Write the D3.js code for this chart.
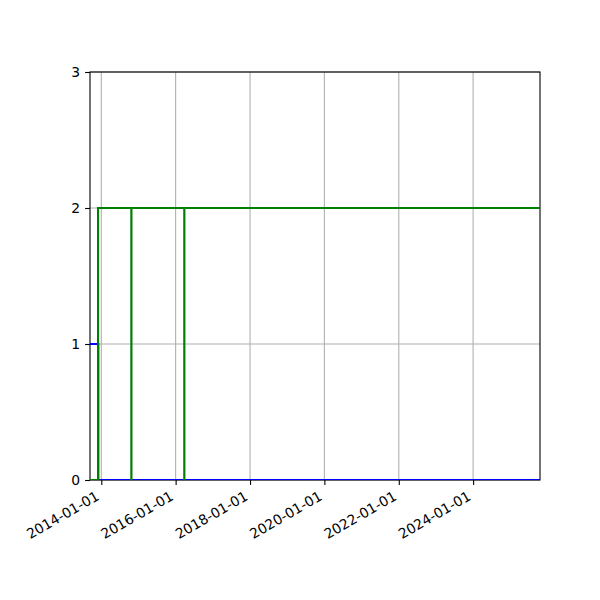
<!DOCTYPE html>
<html>
<head>
<meta charset="utf-8">
<script src="https://d3js.org/d3.v7.min.js"></script>
<style>
  body { margin: 0; background: #fff; }
  text { font-family: "DejaVu Sans", sans-serif; }
</style>
</head>
<body>
<div id="stage"></div>
<script>
// step series, values hold from each date until the next one
const xRange = ['2013-09-12', '2025-10-19'];
const blueDates = ['2013-09-12', '2013-12-02', '2025-10-19'];
const blueValues = [1, 0, 0];
const greenDates = ['2013-09-12', '2013-11-30', '2014-10-23', '2014-10-24', '2016-03-26', '2016-03-27', '2025-10-19'];
const greenValues = [0, 2, 0, 2, 0, 2, 2];
const yTicks = [0, 1, 2, 3];

const W = 600, H = 600;
const margin = { top: 72, right: 60, bottom: 120, left: 90 };
const parse = d3.utcParse('%Y-%m-%d');

const svg = d3.select('#stage').append('svg')
  .attr('width', W)
  .attr('height', H);

const x = d3.scaleUtc()
  .domain(xRange.map(parse))
  .range([margin.left, W - margin.right]);
const y = d3.scaleLinear()
  .domain([0, 3])
  .range([H - margin.bottom, margin.top]);

const xTicks = d3.utcYear.every(2).range(x.domain()[0], x.domain()[1]);
const fmt = d3.utcFormat('%Y-%m-%d');

// grid
const grid = svg.append('g').attr('stroke', '#b0b0b0').attr('stroke-width', 1.1);
grid.selectAll('.gx').data(xTicks).enter().append('line')
  .attr('x1', d => x(d)).attr('x2', d => x(d))
  .attr('y1', y(0)).attr('y2', y(3));
grid.selectAll('.gy').data(yTicks).enter().append('line')
  .attr('y1', d => y(d)).attr('y2', d => y(d))
  .attr('x1', x.range()[0]).attr('x2', x.range()[1]);

// spines
svg.append('rect')
  .attr('x', margin.left).attr('y', margin.top)
  .attr('width', W - margin.left - margin.right)
  .attr('height', H - margin.top - margin.bottom)
  .attr('fill', 'none')
  .attr('stroke', '#000')
  .attr('stroke-width', 1.1);

// clip lines to the axes box like matplotlib
svg.append('clipPath').attr('id', 'clip')
  .append('rect')
  .attr('x', margin.left).attr('y', margin.top)
  .attr('width', W - margin.left - margin.right)
  .attr('height', H - margin.top - margin.bottom);

const line = d3.line()
  .x(d => x(d[0]))
  .y(d => y(d[1]))
  .curve(d3.curveStepAfter);

// blue first, green goes on top of it
const series = [
  { color: '#0000ff', pts: d3.zip(blueDates.map(parse), blueValues) },
  { color: '#008000', pts: d3.zip(greenDates.map(parse), greenValues) },
];
svg.append('g').attr('clip-path', 'url(#clip)')
  .selectAll('path').data(series).enter().append('path')
  .attr('d', d => line(d.pts))
  .attr('fill', 'none')
  .attr('stroke', d => d.color)
  .attr('stroke-width', 2.1)
  .attr('stroke-linejoin', 'miter')
  .attr('stroke-linecap', 'butt');

// axes
const xAxis = svg.append('g')
  .attr('transform', `translate(0,${y(0)})`)
  .call(d3.axisBottom(x).tickValues(xTicks).tickFormat(fmt).tickSizeOuter(0).tickSize(4.9).tickPadding(4.9));
const yAxis = svg.append('g')
  .attr('transform', `translate(${margin.left},0)`)
  .call(d3.axisLeft(y).tickValues(yTicks).tickFormat(d3.format('d')).tickSizeOuter(0).tickSize(4.9).tickPadding(4.9));

[xAxis, yAxis].forEach(a => {
  a.select('.domain').remove();
  a.selectAll('.tick line').attr('stroke', '#000').attr('stroke-width', 1.1);
  a.selectAll('.tick text').attr('fill', '#000').attr('font-size', 13.9);
});
yAxis.selectAll('.tick text').attr('dy', '0.35em');

// rotated date labels, right/top aligned under the tick (autofmt_xdate look)
xAxis.selectAll('.tick text')
  .attr('text-anchor', 'end')
  .attr('dy', null)
  .attr('y', null)
  .attr('transform', 'translate(-1.7,19) rotate(-30)');
</script>
</body>
</html>
